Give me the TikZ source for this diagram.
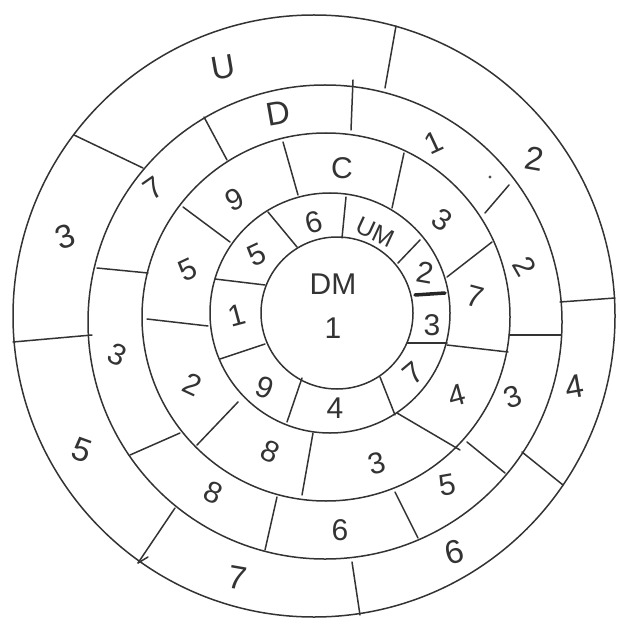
\documentclass[tikz,border=0pt]{standalone}
\usepackage{fontspec}
\setmainfont{Liberation Sans}
\begin{document}
\begin{tikzpicture}[x=1pt,y=-1pt,line cap=round,
  ink/.style={draw=black!80,line width=1.5pt},
  heavy/.style={draw=black!85,line width=3.5pt},
  lab/.style={font=\fontsize{30}{32}\selectfont,text=black!80,inner sep=0pt},
  small/.style={font=\fontsize{25}{27}\selectfont,text=black!80,inner sep=0pt},
  big/.style={font=\fontsize{33}{35}\selectfont,text=black!80,inner sep=0pt}]
\useasboundingbox (0,0) rectangle (616,620);
% circles
\coordinate (c1) at (337,313);
\coordinate (c2) at (330,313);
\coordinate (c3) at (326,317);
\coordinate (c4) at (325,322);
\coordinate (c5) at (314,316);
\draw[ink] (c1) circle[radius=76];
\draw[ink] (c2) circle[radius=120];
\draw[ink] (c3) circle[radius=184];
\draw[ink] (c4) circle[radius=237];
\draw[ink] (c5) circle[radius=301];
% ring 5 dividers
\draw[ink] (74,135) -- (143,168);
\draw[ink] (396,26) -- (385,88);
\draw[ink] (615,298) -- (560,302);
\draw[ink] (563,485) -- (522,452);
\draw[ink] (360,615) -- (352,562);
\draw[ink] (138,563) -- (175,508);
\draw[ink] (138,563) -- (148,557);
\draw[ink] (13,342) -- (92,335);
% ring 4 dividers
\draw[ink] (204,117) -- (227,160);
\draw[ink] (353,80) -- (351,130);
\draw[ink] (509,185) -- (485,213);
\draw[ink] (509,335) -- (561,335);
\draw[ink] (467,442) -- (505,473);
\draw[ink] (395,492) -- (418,538);
\draw[ink] (277,497) -- (265,550);
\draw[ink] (130,455) -- (180,433);
\draw[ink] (97,268) -- (148,273);
% ring 3 dividers
\draw[ink] (283,142) -- (298,195);
\draw[ink] (404,153) -- (392,208);
\draw[ink] (447,277) -- (492,242);
\draw[ink] (447,345) -- (508,352);
\draw[ink] (397,413) -- (460,450);
\draw[ink] (313,433) -- (302,495);
\draw[ink] (238,402) -- (197,445);
\draw[ink] (147,319) -- (208,326);
\draw[ink] (183,207) -- (230,242);
% ring 2 dividers
\draw[ink] (268,212) -- (297,247);
\draw[ink] (346,197) -- (342,238);
\draw[ink] (420,240) -- (398,263);
\draw[heavy] (415,295) -- (445,293);
\draw[ink] (407,343) -- (447,343);
\draw[ink] (380,377) -- (395,415);
\draw[ink] (302,378) -- (287,422);
\draw[ink] (265,344) -- (220,359);
\draw[ink] (215,279) -- (265,285);
% stray dot
\fill[black!70] (490,177) circle[radius=1.6];
% centre
\node[lab] (dm) at (333,284) {DM};
\node[lab] (one) at (333,328) {1};
% ring 2 labels
\node[lab,rotate=25] (r2a) at (257,255) {5};
\node[lab,rotate=15] (r2b) at (314,222) {6};
\node[small,rotate=-25] (r2c) at (375,232) {UM};
\node[lab,rotate=-10] (r2d) at (425,273) {2};
\node[lab] (r2e) at (432,325) {3};
\node[lab,rotate=40] (r2f) at (413,373) {7};
\node[lab] (r2g) at (335,408) {4};
\node[lab,rotate=-20] (r2h) at (265,388) {9};
\node[lab,rotate=15] (r2i) at (237,315) {1};
% ring 3 labels
\node[lab,rotate=25] (r3a) at (235,200) {9};
\node[lab] (r3b) at (342,168) {C};
\node[lab,rotate=-35] (r3c) at (442,220) {3};
\node[lab,rotate=-15] (r3d) at (475,297) {7};
\node[lab,rotate=15] (r3e) at (457,395) {4};
\node[lab,rotate=15] (r3f) at (377,463) {3};
\node[lab,rotate=-25] (r3g) at (270,452) {8};
\node[lab,rotate=-25] (r3h) at (192,385) {2};
\node[lab,rotate=25] (r3i) at (188,270) {5};
% ring 4 labels
\node[lab,rotate=35] (r4a) at (153,188) {7};
\node[big,rotate=10] (r4b) at (278,113) {D};
\node[lab,rotate=25] (r4c) at (434,143) {1};
\node[lab,rotate=-60] (r4d) at (525,266) {2};
\node[lab,rotate=20] (r4e) at (513,397) {3};
\node[lab,rotate=10] (r4f) at (447,485) {5};
\node[lab] (r4g) at (340,530) {6};
\node[lab,rotate=-25] (r4h) at (213,493) {8};
\node[lab,rotate=-25] (r4i) at (117,355) {3};
% ring 5 labels
\node[big,rotate=10] (r5a) at (223,67) {U};
\node[big,rotate=-10] (r5b) at (535,159) {2};
\node[big,rotate=10] (r5c) at (575,387) {4};
\node[big,rotate=15] (r5d) at (454,552) {6};
\node[big,rotate=-10] (r5e) at (238,578) {7};
\node[big,rotate=-20] (r5f) at (82,450) {5};
\node[big,rotate=20] (r5g) at (65,237) {3};
\end{tikzpicture}
\end{document}
